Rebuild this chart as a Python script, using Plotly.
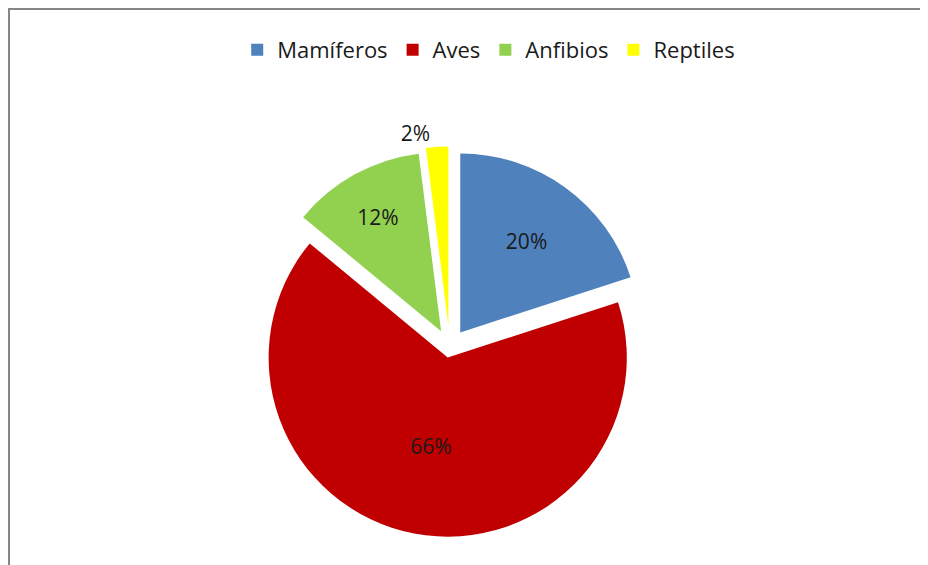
import plotly.graph_objects as go

categories = ["Mamíferos", "Aves", "Anfibios", "Reptiles"]
values = [20, 66, 12, 2]
colors = ["#4F81BD", "#C00000", "#92D050", "#FFFF00"]

W, H = 928, 565

fig = go.Figure(go.Pie(
    labels=categories,
    values=values,
    sort=False,
    direction="clockwise",
    rotation=0,
    pull=[0.1, 0.06, 0.1, 0.12],
    marker=dict(colors=colors, line=dict(width=0)),
    textinfo="percent",
    texttemplate="%{percent:.0%}",
    textposition=["inside", "inside", "inside", "outside"],
    insidetextorientation="horizontal",
    textfont=dict(size=21, color="#1a1a1a", family="Open Sans"),
    domain=dict(x=[0.091, 0.861], y=[0.045, 0.755]),
    hoverinfo="label+percent",
    automargin=False,
))

fig.update_layout(
    width=W, height=H,
    margin=dict(l=0, r=0, t=0, b=0, autoexpand=False),
    paper_bgcolor="white",
    plot_bgcolor="white",
    font=dict(family="Open Sans", color="#1a1a1a"),
    legend=dict(
        orientation="h",
        x=0.518, xanchor="center",
        y=1 - 42 / H, yanchor="middle",
        font=dict(size=22, family="Open Sans", color="#1a1a1a"),
        itemwidth=30,
    ),
    shapes=[
        dict(type="line", xref="paper", yref="paper",
             x0=0, x1=1, y0=1 - 1 / H, y1=1 - 1 / H,
             line=dict(color="#868686", width=2)),
        dict(type="line", xref="paper", yref="paper",
             x0=1 / W, x1=1 / W, y0=0, y1=1,
             line=dict(color="#868686", width=2)),
    ],
)

fig.write_html("out.html")
